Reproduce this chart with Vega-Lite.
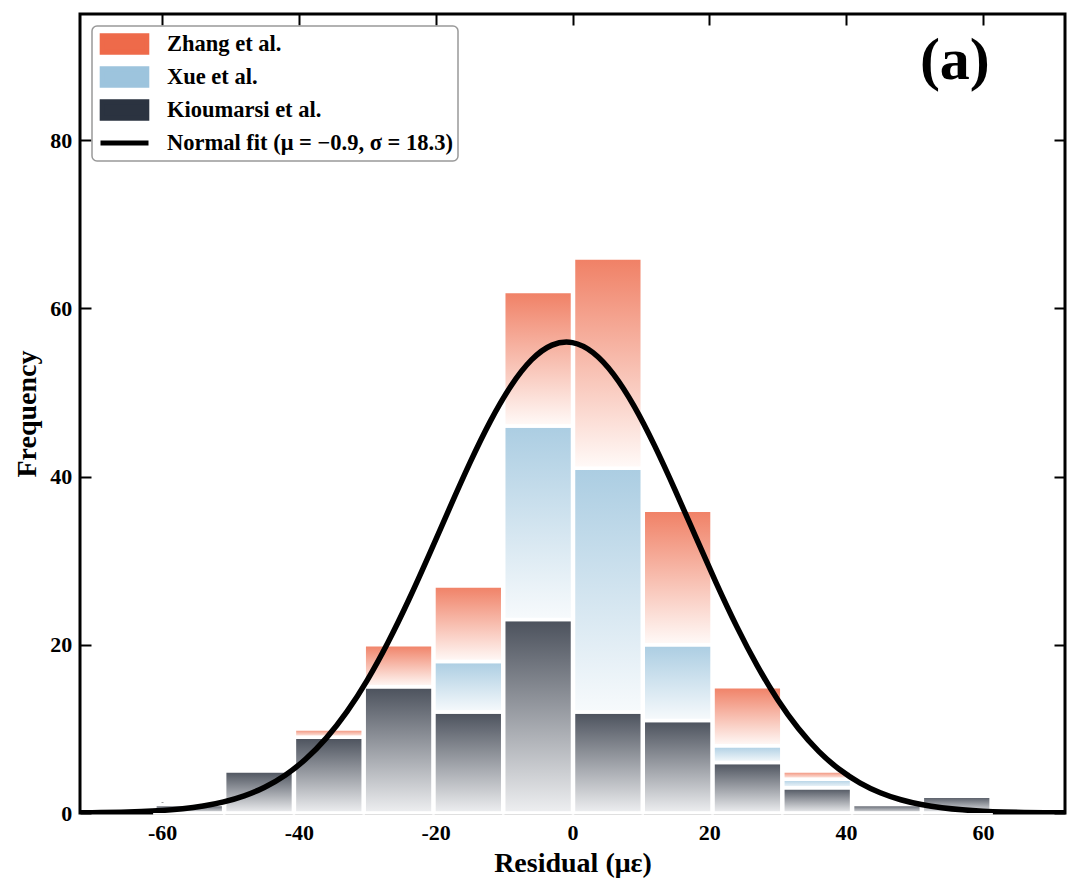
{
  "$schema": "https://vega.github.io/schema/vega-lite/v6.json",
  "width": 985,
  "height": 799,
  "autosize": {"type": "none"},
  "padding": {"left": 80, "top": 14, "right": 15, "bottom": 83},
  "background": "white",
  "config": {
    "view": {"stroke": "black", "strokeWidth": 3},
    "font": "Liberation Serif"
  },
  "layer": [
    {
      "data": {
        "values": [
          {"bin_start": -61.2, "bin_end": -51.0, "series": "Kioumarsi et al.", "count": 1},
          {"bin_start": -51.0, "bin_end": -40.8, "series": "Kioumarsi et al.", "count": 5},
          {"bin_start": -40.8, "bin_end": -30.6, "series": "Kioumarsi et al.", "count": 9},
          {"bin_start": -40.8, "bin_end": -30.6, "series": "Zhang et al.", "count": 1},
          {"bin_start": -30.6, "bin_end": -20.4, "series": "Kioumarsi et al.", "count": 15},
          {"bin_start": -30.6, "bin_end": -20.4, "series": "Zhang et al.", "count": 5},
          {"bin_start": -20.4, "bin_end": -10.2, "series": "Kioumarsi et al.", "count": 12},
          {"bin_start": -20.4, "bin_end": -10.2, "series": "Xue et al.", "count": 6},
          {"bin_start": -20.4, "bin_end": -10.2, "series": "Zhang et al.", "count": 9},
          {"bin_start": -10.2, "bin_end": 0.0, "series": "Kioumarsi et al.", "count": 23},
          {"bin_start": -10.2, "bin_end": 0.0, "series": "Xue et al.", "count": 23},
          {"bin_start": -10.2, "bin_end": 0.0, "series": "Zhang et al.", "count": 16},
          {"bin_start": 0.0, "bin_end": 10.2, "series": "Kioumarsi et al.", "count": 12},
          {"bin_start": 0.0, "bin_end": 10.2, "series": "Xue et al.", "count": 29},
          {"bin_start": 0.0, "bin_end": 10.2, "series": "Zhang et al.", "count": 25},
          {"bin_start": 10.2, "bin_end": 20.4, "series": "Kioumarsi et al.", "count": 11},
          {"bin_start": 10.2, "bin_end": 20.4, "series": "Xue et al.", "count": 9},
          {"bin_start": 10.2, "bin_end": 20.4, "series": "Zhang et al.", "count": 16},
          {"bin_start": 20.4, "bin_end": 30.6, "series": "Kioumarsi et al.", "count": 6},
          {"bin_start": 20.4, "bin_end": 30.6, "series": "Xue et al.", "count": 2},
          {"bin_start": 20.4, "bin_end": 30.6, "series": "Zhang et al.", "count": 7},
          {"bin_start": 30.6, "bin_end": 40.8, "series": "Kioumarsi et al.", "count": 3},
          {"bin_start": 30.6, "bin_end": 40.8, "series": "Xue et al.", "count": 1},
          {"bin_start": 30.6, "bin_end": 40.8, "series": "Zhang et al.", "count": 1},
          {"bin_start": 40.8, "bin_end": 51.0, "series": "Kioumarsi et al.", "count": 1},
          {"bin_start": 51.0, "bin_end": 61.2, "series": "Kioumarsi et al.", "count": 2}
        ]
      },
      "mark": {"type": "bar", "orient": "vertical", "stroke": "white", "strokeWidth": 3.5},
      "encoding": {
        "x": {
          "field": "bin_start", "type": "quantitative", "bin": {"binned": true, "step": 10.2},
          "scale": {"domain": [-72, 72], "nice": false, "zero": false},
          "axis": {
            "orient": "bottom", "values": [-60, -40, -20, 0, 20, 40, 60],
            "labelExpr": "'' + datum.value",
            "domain": false, "grid": false,
            "tickSize": -11, "tickWidth": 2, "tickColor": "black",
            "labelFont": "Liberation Serif", "labelFontWeight": "bold", "labelFontSize": 22, "labelColor": "black",
            "labelPadding": 20.5, "labelFlush": false, "labelOverlap": false,
            "title": "Residual (με)",
            "titleFont": "Liberation Serif", "titleFontWeight": "bold", "titleFontSize": 28, "titleColor": "black",
            "titlePadding": 6
          }
        },
        "x2": {"field": "bin_end"},
        "y": {
          "field": "count", "type": "quantitative", "stack": "zero",
          "scale": {"domain": [0, 95], "nice": false},
          "axis": {
            "orient": "left", "values": [0, 20, 40, 60, 80],
            "domain": false, "grid": false,
            "tickSize": -11, "tickWidth": 2, "tickColor": "black",
            "labelFont": "Liberation Serif", "labelFontWeight": "bold", "labelFontSize": 22, "labelColor": "black",
            "labelPadding": 19.3, "labelFlush": false,
            "title": "Frequency",
            "titleFont": "Liberation Serif", "titleFontWeight": "bold", "titleFontSize": 28, "titleColor": "black",
            "titlePadding": 8
          }
        },
        "detail": {"field": "series"},
        "order": {"field": "series", "sort": "ascending"},
        "fill": {
          "condition": [
            {"test": "datum.series === 'Zhang et al.'", "value": {"gradient": "linear", "x1": 0, "y1": 0, "x2": 0, "y2": 1, "stops": [{"offset": 0, "color": "#F08065"}, {"offset": 1, "color": "#FFFAF8"}]}},
            {"test": "datum.series === 'Xue et al.'", "value": {"gradient": "linear", "x1": 0, "y1": 0, "x2": 0, "y2": 1, "stops": [{"offset": 0, "color": "#ABCDE2"}, {"offset": 1, "color": "#F7FAFC"}]}}
          ],
          "value": {"gradient": "linear", "x1": 0, "y1": 0, "x2": 0, "y2": 1, "stops": [{"offset": 0, "color": "#4B515C"}, {"offset": 1, "color": "#EEEFF1"}]}
        }
      }
    },
    {
      "data": {
        "values": [
          {"x": -72, "y": 0.030}, {"x": -69, "y": 0.055}, {"x": -66, "y": 0.100}, {"x": -63, "y": 0.177},
          {"x": -60, "y": 0.304}, {"x": -57, "y": 0.510}, {"x": -54, "y": 0.832}, {"x": -51, "y": 1.320},
          {"x": -48, "y": 2.041}, {"x": -45, "y": 3.069}, {"x": -42, "y": 4.496}, {"x": -39, "y": 6.413},
          {"x": -36, "y": 8.90}, {"x": -33, "y": 12.02}, {"x": -30, "y": 15.81}, {"x": -27, "y": 20.25},
          {"x": -24, "y": 25.24}, {"x": -21, "y": 30.64}, {"x": -18, "y": 36.19}, {"x": -15, "y": 41.62},
          {"x": -12, "y": 46.59}, {"x": -9, "y": 50.77}, {"x": -6, "y": 53.87}, {"x": -3, "y": 55.63},
          {"x": 0, "y": 55.93}, {"x": 3, "y": 54.74}, {"x": 6, "y": 52.16}, {"x": 9, "y": 48.38},
          {"x": 12, "y": 43.68}, {"x": 15, "y": 38.39}, {"x": 18, "y": 32.85}, {"x": 21, "y": 27.37},
          {"x": 24, "y": 22.19}, {"x": 27, "y": 17.52}, {"x": 30, "y": 13.46}, {"x": 33, "y": 10.07},
          {"x": 36, "y": 7.33}, {"x": 39, "y": 5.20}, {"x": 42, "y": 3.59}, {"x": 45, "y": 2.41},
          {"x": 48, "y": 1.576}, {"x": 51, "y": 1.004}, {"x": 54, "y": 0.622}, {"x": 57, "y": 0.375},
          {"x": 60, "y": 0.220}, {"x": 63, "y": 0.126}, {"x": 66, "y": 0.070}, {"x": 69, "y": 0.038},
          {"x": 72, "y": 0.020}
        ]
      },
      "mark": {"type": "line", "strokeWidth": 5.5, "interpolate": "natural", "clip": true},
      "encoding": {
        "x": {
          "field": "x", "type": "quantitative",
          "axis": {
            "orient": "top", "values": [-60, -40, -20, 0, 20, 40, 60],
            "labels": false, "domain": false, "grid": false, "title": null,
            "tickSize": -11, "tickWidth": 2, "tickColor": "black"
          }
        },
        "y": {
          "field": "y", "type": "quantitative",
          "axis": {
            "orient": "right", "values": [0, 20, 40, 60, 80],
            "labels": false, "domain": false, "grid": false, "title": null,
            "tickSize": -11, "tickWidth": 2, "tickColor": "black"
          }
        },
        "color": {
          "datum": "Normal fit (μ = −0.9, σ = 18.3)",
          "type": "nominal",
          "scale": {
            "domain": ["Zhang et al.", "Xue et al.", "Kioumarsi et al.", "Normal fit (μ = −0.9, σ = 18.3)"],
            "range": ["#EE6A4A", "#9DC4DD", "#2B3340", "black"]
          },
          "legend": {
            "title": null,
            "orient": "top-left",
            "offset": 12,
            "padding": 5,
            "labelFont": "Liberation Serif", "labelFontWeight": "bold", "labelFontSize": 22.5, "labelColor": "black",
            "labelOffset": 30, "labelLimit": 500,
            "symbolSize": 400,
            "symbolOffset": 15,
            "clipHeight": 26,
            "rowPadding": 7,
            "strokeColor": "#999999",
            "fillColor": "white",
            "cornerRadius": 5,
            "encode": {
              "symbols": {
                "update": {
                  "shape": {"signal": "(datum.value === 'Zhang et al.' || datum.value === 'Xue et al.' || datum.value === 'Kioumarsi et al.') ? 'M-2.23,-0.82H2.23V0.82H-2.23Z' : 'M-2.4,0H2.4'"},
                  "fill": {"signal": "datum.value === 'Zhang et al.' ? '#EE6A4A' : datum.value === 'Xue et al.' ? '#9DC4DD' : datum.value === 'Kioumarsi et al.' ? '#2B3340' : 'transparent'"},
                  "stroke": {"signal": "(datum.value === 'Zhang et al.' || datum.value === 'Xue et al.' || datum.value === 'Kioumarsi et al.') ? 'transparent' : 'black'"},
                  "strokeWidth": {"value": 5},
                  "opacity": {"value": 1}
                }
              },
              "legend": {"update": {"strokeWidth": {"value": 1.5}}}
            }
          }
        }
      }
    },
    {
      "data": {"values": [{}]},
      "mark": {"type": "text", "font": "Liberation Serif", "fontWeight": "bold", "fontSize": 60, "align": "center", "baseline": "alphabetic", "color": "black"},
      "encoding": {
        "x": {"datum": 55.9, "type": "quantitative", "axis": null},
        "y": {"datum": 87.3, "type": "quantitative", "axis": null},
        "text": {"value": "(a)"}
      }
    }
  ]
}
